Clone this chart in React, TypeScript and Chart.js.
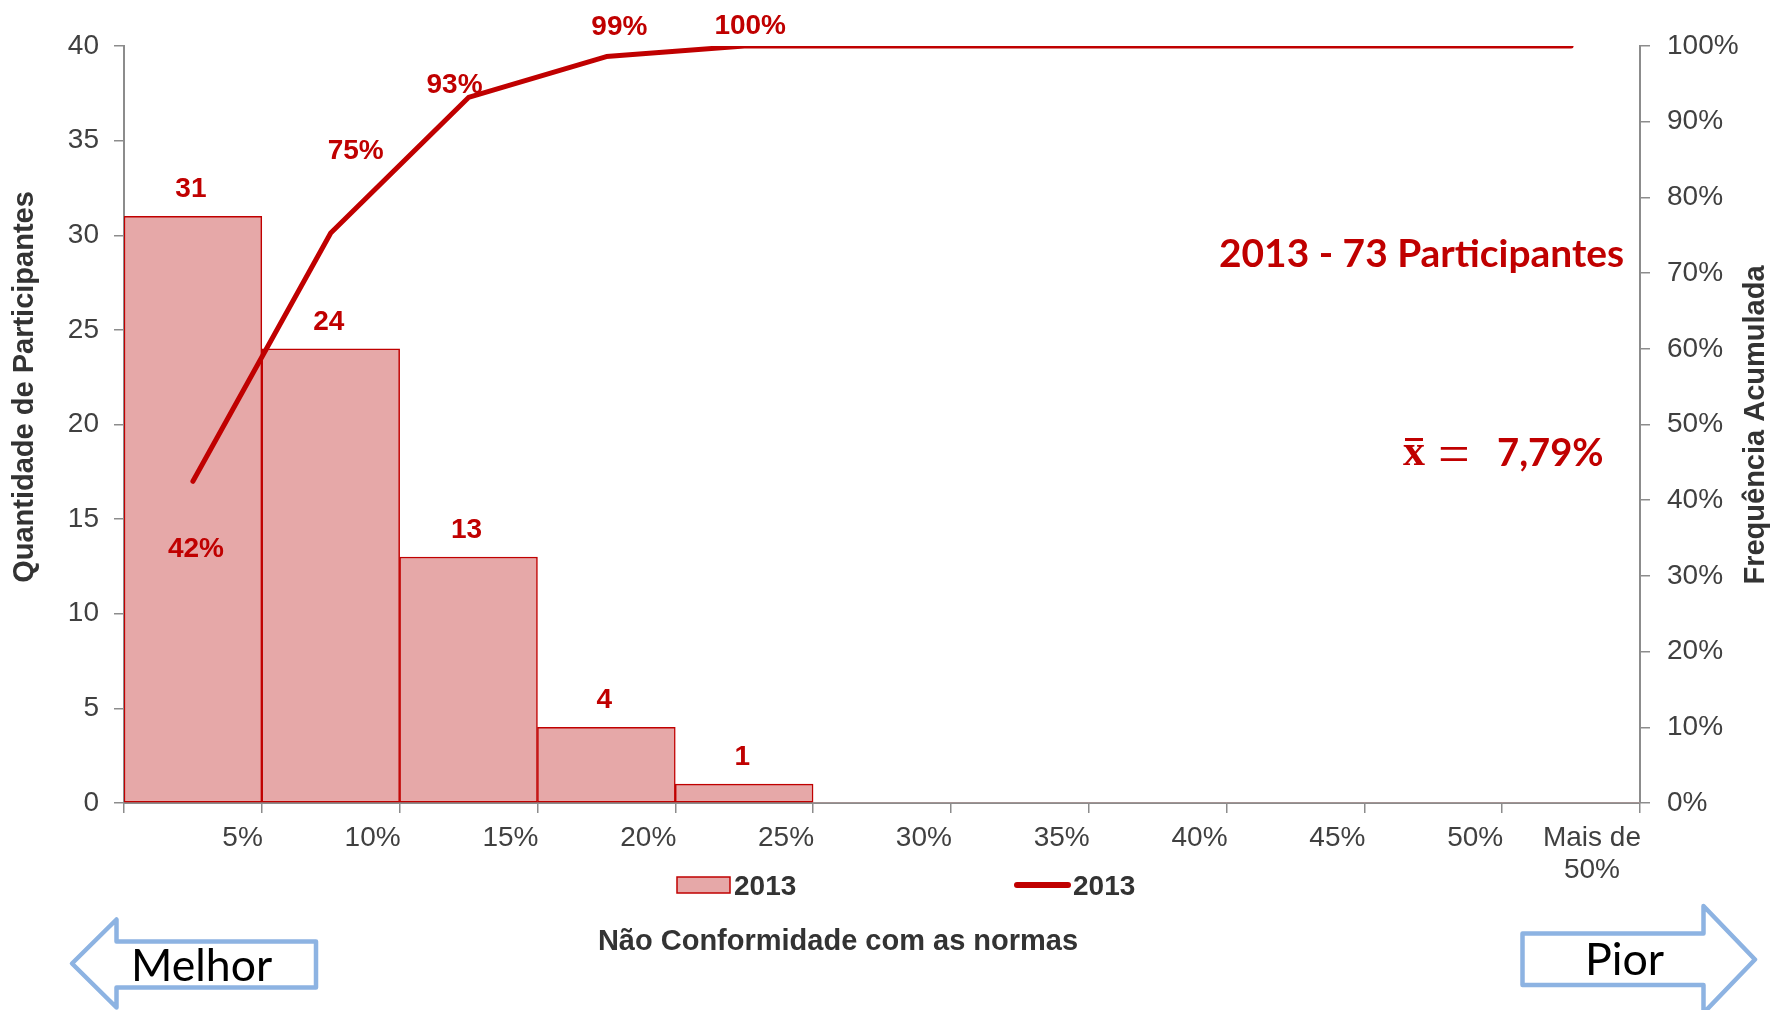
import React, { useEffect, useRef } from 'react';
import { Chart, registerables } from 'chart.js';

Chart.register(...registerables);

// ---------- data ----------
const categories: string[] = ['5%', '10%', '15%', '20%', '25%', '30%', '35%', '40%', '45%', '50%', 'Mais de 50%'];
const xTickLabels: string[][] = [['5%'], ['10%'], ['15%'], ['20%'], ['25%'], ['30%'], ['35%'], ['40%'], ['45%'], ['50%'], ['Mais de', '50%']];
const participantCounts: number[] = [31, 24, 13, 4, 1, 0, 0, 0, 0, 0, 0];
const cumulativePercent: number[] = [42.5, 75.3, 93.2, 98.6, 100, 100, 100, 100, 100, 100, 100];
const cumulativeLabels: string[] = ['42%', '75%', '93%', '99%', '100%'];
const leftAxisMax = 40;
const leftAxisStep = 5;
const rightAxisMax = 100;
const rightAxisStep = 10;
const seriesName = '2013';
const xAxisTitle = 'Não Conformidade com as normas';
const yAxisTitle = 'Quantidade de Participantes';
const y1AxisTitle = 'Frequência Acumulada';
const annotationTitle = '2013 - 73 Participantes';
const meanValueText = '7,79%';
const betterText = 'Melhor';
const worseText = 'Pior';

// ---------- style ----------
const SANS = "'Liberation Sans', Arial, sans-serif";
const CAL = "Lato, 'Open Sans', sans-serif";
const SERIF = "'Liberation Serif', 'DejaVu Serif', serif";
const RED = '#c00000';
const PINK = '#e6a8a8';
const AXIS = '#8c8c8c';
const TICK = '#404040';
const TITLE = '#333333';
const ARROW = '#8db3e2';

function drawFit(ctx: CanvasRenderingContext2D, text: string, weight: string, family: string,
  left: number, right: number, baseline: number, color: string) {
  ctx.font = `${weight} 100px ${family}`;
  const m = ctx.measureText(text);
  const ink = m.actualBoundingBoxLeft + m.actualBoundingBoxRight;
  const size = (100 * (right - left)) / ink;
  ctx.font = `${weight} ${size}px ${family}`;
  const m2 = ctx.measureText(text);
  ctx.textAlign = 'left';
  ctx.textBaseline = 'alphabetic';
  ctx.fillStyle = color;
  ctx.fillText(text, left + m2.actualBoundingBoxLeft, baseline);
}

const overlayPlugin = {
  id: 'overlay',
  afterDatasetsDraw(chart: any) {
    const ctx: CanvasRenderingContext2D = chart.ctx;
    const xs = chart.scales.x;
    const half = (xs.getPixelForValue(1) - xs.getPixelForValue(0)) / 2;
    ctx.save();

    // bar value labels
    ctx.font = `bold 28px ${SANS}`;
    ctx.fillStyle = RED;
    ctx.textAlign = 'center';
    ctx.textBaseline = 'middle';
    const barMeta = chart.getDatasetMeta(0);
    participantCounts.forEach((v, i) => {
      if (v > 0) {
        const el = barMeta.data[i];
        ctx.fillText(String(v), el.x - 2, el.y - 27);
      }
    });

    // cumulative labels
    const lineMeta = chart.getDatasetMeta(1);
    const offs = [[3, 68], [25, -82], [-14, -12], [13, -29], [6, -20]];
    cumulativeLabels.forEach((t, i) => {
      const p = lineMeta.data[i];
      ctx.fillText(t, p.x + offs[i][0], p.y + offs[i][1]);
    });

    // x tick labels (right-aligned to category boundary, lines centred)
    ctx.font = `28px ${SANS}`;
    ctx.fillStyle = TICK;
    xTickLabels.forEach((lines, i) => {
      const right = xs.getPixelForValue(i) + half;
      const w = Math.max(...lines.map((l) => ctx.measureText(l).width));
      const cx = right - w / 2 + 1;
      lines.forEach((l, k) => ctx.fillText(l, cx, 838 + k * 32));
    });

    // axis titles
    ctx.font = `bold 29px ${SANS}`;
    ctx.fillStyle = TITLE;
    ctx.fillText(xAxisTitle, 838, 942);
    ctx.save();
    ctx.translate(25, 387);
    ctx.rotate(-Math.PI / 2);
    ctx.fillText(yAxisTitle, 0, 0);
    ctx.restore();
    ctx.save();
    ctx.translate(1756, 425);
    ctx.rotate(-Math.PI / 2);
    ctx.fillText(y1AxisTitle, 0, 0);
    ctx.restore();

    // legend
    ctx.fillStyle = PINK;
    ctx.fillRect(677, 877, 53, 16);
    ctx.strokeStyle = RED;
    ctx.lineWidth = 1.5;
    ctx.strokeRect(677, 877, 53, 16);
    ctx.beginPath();
    ctx.lineCap = 'round';
    ctx.lineWidth = 6;
    ctx.moveTo(1017, 885);
    ctx.lineTo(1068, 885);
    ctx.stroke();
    ctx.font = `bold 28px ${SANS}`;
    ctx.fillStyle = TITLE;
    ctx.textAlign = 'left';
    ctx.textBaseline = 'alphabetic';
    ctx.fillText(seriesName, 734, 895);
    ctx.fillText(seriesName, 1073, 895);

    // annotations
    drawFit(ctx, annotationTitle, 'bold', CAL, 1220, 1623, 267, RED);
    drawFit(ctx, 'x', 'bold', SERIF, 1403, 1425, 465, RED);
    ctx.fillStyle = RED;
    ctx.fillRect(1405, 438, 18, 3);
    drawFit(ctx, '=', 'normal', SERIF, 1440, 1467, 473, RED);
    drawFit(ctx, meanValueText, 'bold', CAL, 1498, 1602, 466, RED);

    // arrows
    ctx.strokeStyle = ARROW;
    ctx.lineWidth = 4.5;
    ctx.lineJoin = 'round';
    ctx.beginPath();
    ctx.moveTo(72, 963.5);
    ctx.lineTo(116.5, 919.5);
    ctx.lineTo(116.5, 941.5);
    ctx.lineTo(316, 941.5);
    ctx.lineTo(316, 987.5);
    ctx.lineTo(116.5, 987.5);
    ctx.lineTo(116.5, 1007.5);
    ctx.closePath();
    ctx.stroke();

    ctx.beginPath();
    ctx.moveTo(1522.5, 933.5);
    ctx.lineTo(1703.5, 933.5);
    ctx.lineTo(1703.5, 906);
    ctx.lineTo(1755, 959.5);
    ctx.lineTo(1703.5, 1013);
    ctx.lineTo(1703.5, 985);
    ctx.lineTo(1522.5, 985);
    ctx.closePath();
    ctx.stroke();

    drawFit(ctx, betterText, 'normal', CAL, 135, 272, 981, '#000000');
    drawFit(ctx, worseText, 'normal', CAL, 1589, 1664, 975, '#000000');

    ctx.restore();
  },
};

export default function App() {
  const canvasRef = useRef<HTMLCanvasElement | null>(null);

  useEffect(() => {
    const canvas = canvasRef.current;
    if (!canvas) return;
    const chart = new Chart(canvas, {
      type: 'bar',
      data: {
        labels: categories,
        datasets: [
          {
            type: 'bar',
            label: seriesName,
            data: participantCounts,
            backgroundColor: PINK,
            borderColor: RED,
            borderWidth: (c: any) => (c.raw > 0 ? 1.5 : 0),
            borderSkipped: false,
            barPercentage: 1,
            categoryPercentage: 1,
            yAxisID: 'y',
            order: 1,
          } as any,
          {
            type: 'line',
            label: seriesName,
            data: cumulativePercent,
            borderColor: RED,
            borderWidth: 5,
            pointRadius: 0,
            pointHoverRadius: 0,
            tension: 0,
            borderCapStyle: 'round',
            borderJoinStyle: 'round',
            fill: false,
            yAxisID: 'y1',
            order: 0,
          } as any,
        ],
      },
      options: {
        responsive: false,
        maintainAspectRatio: false,
        animation: false,
        devicePixelRatio: 1,
        layout: { padding: { top: 46, left: 0, right: 0, bottom: 0 } },
        plugins: {
          legend: { display: false },
          tooltip: { enabled: false },
          title: { display: false },
        },
        scales: {
          x: {
            type: 'category',
            offset: true,
            grid: {
              display: true,
              offset: true,
              drawOnChartArea: false,
              drawTicks: true,
              tickLength: 10,
              color: AXIS,
              lineWidth: 1.5,
            },
            border: { display: true, color: AXIS, width: 2 },
            ticks: { display: false },
            afterFit: (s: any) => {
              s.height = 207;
            },
          },
          y: {
            position: 'left',
            min: 0,
            max: leftAxisMax,
            ticks: {
              stepSize: leftAxisStep,
              font: { family: SANS, size: 28 },
              color: TICK,
              padding: 15,
            },
            grid: {
              drawOnChartArea: false,
              drawTicks: true,
              tickLength: 10,
              color: AXIS,
              lineWidth: 1.5,
            },
            border: { display: true, color: AXIS, width: 2 },
            afterFit: (s: any) => {
              s.width = 124;
            },
          },
          y1: {
            position: 'right',
            min: 0,
            max: rightAxisMax,
            ticks: {
              stepSize: rightAxisStep,
              font: { family: SANS, size: 28 },
              color: TICK,
              padding: 17,
              callback: (v: any) => `${v}%`,
            },
            grid: {
              drawOnChartArea: false,
              drawTicks: true,
              tickLength: 10,
              color: AXIS,
              lineWidth: 1.5,
            },
            border: { display: true, color: AXIS, width: 2 },
            afterFit: (s: any) => {
              s.width = 130;
            },
          },
        },
      } as any,
      plugins: [overlayPlugin],
    });
    return () => chart.destroy();
  }, []);

  return (
    <div style={{ position: 'absolute', left: 0, top: 0, width: 1770, height: 1010, background: '#ffffff' }}>
      <canvas ref={canvasRef} width={1770} height={1010} style={{ display: 'block', width: 1770, height: 1010 }} />
    </div>
  );
}
